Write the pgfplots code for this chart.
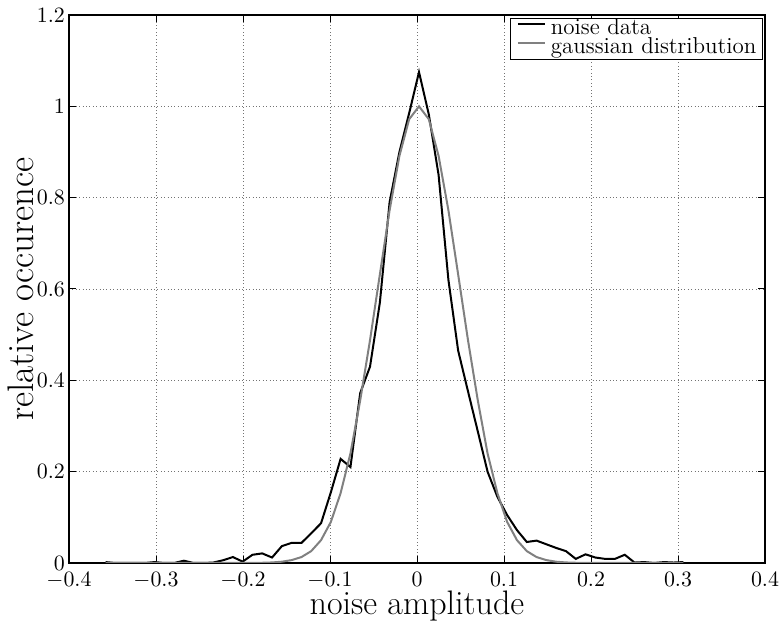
\documentclass[border=0pt]{standalone}
\usepackage{pgfplots}
\pgfplotsset{compat=1.18}
\begin{document}
\begin{tikzpicture}
\begin{axis}[
  at={(0,0)}, anchor=south west,
  scale only axis, width=348pt, height=274pt,
  xmin=-0.4, xmax=0.4, ymin=0, ymax=1.2,
  xtick={-0.4,-0.3,-0.2,-0.1,0,0.1,0.2,0.3,0.4},
  ytick={0,0.2,0.4,0.6,0.8,1,1.2},
  grid=major,
  grid style={black!55, line width=0.4pt, dash pattern=on 0.4pt off 1.3pt},
  tick align=inside, major tick length=3.5pt,
  tick style={black, line width=0.5pt},
  axis line style={line width=0.8pt},
  xticklabel style={font=\fontsize{10.5}{12}\selectfont, yshift=-1pt},
  yticklabel style={font=\fontsize{10.5}{12}\selectfont, xshift=1.5pt},
  xlabel={noise amplitude}, ylabel={relative occurence},
  xlabel style={font=\fontsize{17}{20}\selectfont, at={(axis description cs:0.5,-0.0949)}, anchor=base},
  ylabel style={font=\fontsize{18.5}{22}\selectfont, at={(axis description cs:-0.0517,0.5)}, anchor=base, rotate=0},
  legend cell align=left,
  legend style={at={(rel axis cs:1,1)}, anchor=north east, xshift=-1pt, yshift=-1.5pt,
    draw=black, line width=0.5pt, font=\fontsize{11.5}{11.5}\selectfont,
    inner xsep=3pt, inner ysep=1pt, row sep=0pt,
    nodes={inner sep=0pt, text height=7.2pt, text depth=2pt},
    /tikz/every odd column/.append style={column sep=2.5pt}},
  legend image code/.code={\draw[#1] (0pt,2.6pt) -- (13.5pt,2.6pt);},
]
\addplot[black, line width=1pt] table {
x y
-0.3580 0.002
-0.3468 0.000
-0.3355 0.000
-0.3242 0.000
-0.3130 0.000
-0.3017 0.002
-0.2905 0.000
-0.2792 0.000
-0.2679 0.005
-0.2567 0.000
-0.2454 0.000
-0.2342 0.001
-0.2229 0.006
-0.2116 0.013
-0.2004 0.003
-0.1891 0.018
-0.1779 0.021
-0.1666 0.012
-0.1553 0.037
-0.1441 0.044
-0.1328 0.044
-0.1216 0.065
-0.1103 0.087
-0.0990 0.155
-0.0878 0.228
-0.0765 0.210
-0.0653 0.372
-0.0540 0.430
-0.0427 0.570
-0.0315 0.790
-0.0202 0.900
-0.0090 0.985
0.0023 1.075
0.0136 0.982
0.0248 0.850
0.0361 0.620
0.0473 0.465
0.0586 0.376
0.0699 0.288
0.0811 0.200
0.0924 0.145
0.1036 0.105
0.1149 0.072
0.1262 0.046
0.1374 0.049
0.1487 0.041
0.1599 0.033
0.1712 0.026
0.1825 0.009
0.1937 0.019
0.2050 0.012
0.2162 0.009
0.2275 0.009
0.2388 0.018
0.2500 0.001
0.2613 0.002
0.2725 0.000
0.2838 0.002
0.2950 0.001
0.3063 0.002
};
\addlegendentry{noise data}
\addplot[black!50, line width=1pt] table {
x y
-0.3580 0
-0.2116 0
-0.2004 0.0001
-0.1891 0.0002
-0.1779 0.0005
-0.1666 0.0012
-0.1553 0.0028
-0.1441 0.0063
-0.1328 0.0130
-0.1216 0.0260
-0.1103 0.0500
-0.0990 0.0900
-0.0878 0.1530
-0.0765 0.2400
-0.0653 0.3559
-0.0540 0.4880
-0.0427 0.6318
-0.0315 0.7724
-0.0202 0.8915
-0.0090 0.9717
0.0023 1.000
0.0136 0.9717
0.0248 0.8915
0.0361 0.7724
0.0473 0.6318
0.0586 0.4880
0.0699 0.3559
0.0811 0.2400
0.0924 0.1530
0.1036 0.0900
0.1149 0.0500
0.1262 0.0260
0.1374 0.0130
0.1487 0.0063
0.1599 0.0028
0.1712 0.0012
0.1825 0.0005
0.1937 0.0002
0.2050 0.0001
0.2162 0
0.3063 0
};
\addlegendentry{gaussian distribution}
\end{axis}
\pgfresetboundingbox
\path[use as bounding box] (-34.5pt,-30.5pt) rectangle (355.5pt,281.5pt);
\end{tikzpicture}
\end{document}
